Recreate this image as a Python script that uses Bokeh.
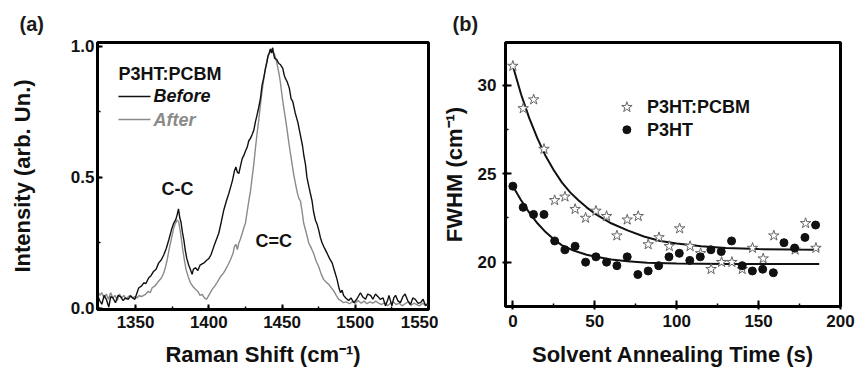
from bokeh.plotting import figure
from bokeh.layouts import row
from bokeh.models import Range1d, SingleIntervalTicker, NumeralTickFormatter
from bokeh.core.properties import value
from bokeh.embed import file_html
from bokeh.resources import INLINE

FONT = "Liberation Sans"

# ---------------- Panel (a): Raman spectra ----------------
before_x = [1324, 1325.5, 1327, 1328.5, 1330, 1331.7, 1333, 1334.5, 1336.3, 1338, 1339.7, 1341.5, 1343, 1345,
            1346.5, 1348, 1349.5, 1351, 1352.2, 1354, 1355.6, 1357, 1359, 1360.5, 1362.4, 1364, 1365.8, 1367.5,
            1369.3, 1371, 1372.7, 1374.5, 1376, 1377.5, 1378.5, 1379.3, 1380.2, 1381, 1382, 1383, 1384, 1385,
            1386.3, 1387.5, 1388.6, 1389.5, 1390.9, 1392.5, 1394, 1395.5, 1397, 1398.9, 1400, 1401.5, 1403.4,
            1405, 1406.8, 1408.5, 1410.2, 1412, 1413.6, 1415, 1416.2, 1417.5, 1418.5, 1419.5, 1420.5, 1421.5,
            1422.8, 1424, 1425, 1426.2, 1427.3, 1428.5, 1429.6, 1430.7, 1431.9, 1433, 1434, 1435.2, 1436.4,
            1437.5, 1438.7, 1439.7, 1440.5, 1441.3, 1442, 1442.8, 1443.6, 1444.3, 1445, 1446.4, 1447.8, 1449,
            1450.5, 1451.5, 1452.3, 1453.5, 1455, 1456.2, 1457.3, 1459, 1460.8, 1462.6, 1464, 1465, 1466, 1467,
            1468.5, 1470.5, 1471.5, 1472.8, 1474, 1475, 1476.2, 1477.4, 1479, 1480.8, 1482.5, 1484.2, 1486,
            1487.6, 1489, 1490, 1491, 1492, 1493.5, 1495.5, 1497, 1499, 1501, 1503.5, 1505, 1507, 1508.5, 1510.5,
            1512, 1513.8, 1515.5, 1517, 1519, 1520.6, 1522, 1523, 1524, 1525, 1526.3, 1527.5, 1529, 1530.8,
            1532.5, 1534, 1535.8, 1537.7, 1539.3, 1541, 1542.8, 1544.6, 1546.3, 1548, 1549.5]
before_y = [0.05, 0.03, 0.016, 0.05, 0.035, 0.005, 0.045, 0.04, 0.022, 0.05, 0.045, 0.03, 0.04, 0.035,
            0.048, 0.04, 0.035, 0.06, 0.079, 0.085, 0.098, 0.095, 0.117, 0.125, 0.142, 0.15, 0.174, 0.185,
            0.205, 0.23, 0.262, 0.30, 0.325, 0.34, 0.36, 0.38, 0.345, 0.33, 0.29, 0.26, 0.22, 0.19,
            0.165, 0.148, 0.13, 0.15, 0.155, 0.145, 0.165, 0.17, 0.175, 0.186, 0.19, 0.205, 0.236,
            0.26, 0.287, 0.33, 0.375, 0.41, 0.438, 0.465, 0.49, 0.525, 0.54, 0.52, 0.515, 0.54,
            0.572, 0.585, 0.60, 0.615, 0.64, 0.65, 0.664, 0.68, 0.714, 0.74, 0.765, 0.80, 0.853,
            0.88, 0.916, 0.94, 0.966, 0.975, 0.99, 0.975, 0.995, 0.97, 0.954, 0.95, 0.935, 0.93,
            0.916, 0.89, 0.878, 0.865, 0.84, 0.80, 0.79, 0.746, 0.71, 0.66, 0.62, 0.58, 0.55, 0.5,
            0.46, 0.41, 0.37, 0.337, 0.32, 0.30, 0.27, 0.25, 0.23, 0.21, 0.19, 0.174, 0.14,
            0.11, 0.075, 0.06, 0.07, 0.05, 0.04, 0.03, 0.04, 0.022, 0.035, 0.06, 0.045, 0.035, 0.055, 0.05,
            0.035, 0.055, 0.045, 0.035, 0.04, 0.01, 0.03, 0.05, 0.03, 0.01, 0.04, 0.05, 0.03, 0.022,
            0.045, 0.055, 0.03, 0.015, 0.04, 0.035, 0.02, 0.022, 0.035, 0.01, 0.02]

after_x = [1324, 1325.5, 1327, 1328.5, 1330, 1331.5, 1333, 1334.5, 1336, 1337.5, 1339, 1340.5, 1342, 1343.5,
           1345, 1346.5, 1348, 1349.5, 1351, 1352.5, 1354, 1355.5, 1356.8, 1358.5, 1360, 1361.3, 1363, 1364.5,
           1365.8, 1367.5, 1369.3, 1370.5, 1371.6, 1372.7, 1373.8, 1375, 1376, 1377.2, 1378.4, 1379.5, 1380.7,
           1381.5, 1382.2, 1383.3, 1384.5, 1386, 1387.5, 1389, 1390.9, 1392.5, 1394, 1395.5, 1397, 1398.5,
           1400, 1401, 1402.3, 1404, 1405.5, 1406.8, 1408.5, 1410, 1411.4, 1413, 1414.8, 1416.5, 1417.5,
           1418.5, 1419.5, 1420.5, 1421.6, 1423, 1424, 1425, 1426.2, 1427.3, 1428.5, 1429.6, 1430.7, 1432,
           1433, 1434, 1435.3, 1436.4, 1437.5, 1438.7, 1439.8, 1441, 1442, 1442.6, 1443.5, 1444.5, 1445.5,
           1446.7, 1447.8, 1448.7, 1449.6, 1450.8, 1451.9, 1453, 1454.2, 1455.5, 1456.9, 1458, 1459.2, 1460.5,
           1461.5, 1462.6, 1463.7, 1464.8, 1466.5, 1468.2, 1470, 1471.6, 1473.3, 1475, 1476.8, 1478.5, 1480.2,
           1481.9, 1483.5, 1485.3, 1487, 1488.7, 1490.3, 1492, 1494, 1496, 1498, 1500, 1502, 1504, 1506, 1508,
           1510, 1512, 1514, 1516, 1518, 1520, 1522, 1524, 1526, 1528, 1530, 1532, 1534, 1536, 1538, 1540,
           1542, 1544, 1546, 1548, 1550]
after_y = [0.07, 0.05, 0.06, 0.04, 0.055, 0.035, 0.06, 0.04, 0.05, 0.03, 0.055, 0.04, 0.05, 0.035,
           0.045, 0.05, 0.04, 0.045, 0.04, 0.05, 0.045, 0.05, 0.054, 0.065, 0.06, 0.079, 0.085, 0.095,
           0.105, 0.115, 0.136, 0.16, 0.186, 0.22, 0.249, 0.28, 0.306, 0.325, 0.337, 0.33, 0.287,
           0.255, 0.224, 0.185, 0.148, 0.12, 0.098, 0.085, 0.073, 0.065, 0.05, 0.054, 0.04, 0.035,
           0.05, 0.06, 0.073, 0.085, 0.098, 0.11, 0.125, 0.135, 0.148, 0.165, 0.186, 0.21, 0.236,
           0.245, 0.225, 0.25, 0.265, 0.29, 0.31, 0.325, 0.37, 0.41, 0.45, 0.50, 0.55, 0.62,
           0.67, 0.714, 0.78, 0.83, 0.875, 0.916, 0.95, 0.97, 0.985, 0.99, 0.98, 0.975, 0.96,
           0.93, 0.90, 0.87, 0.83, 0.78, 0.74, 0.70, 0.65, 0.60, 0.55, 0.51, 0.475, 0.44,
           0.42, 0.41, 0.37, 0.325, 0.29, 0.25, 0.23, 0.21, 0.18, 0.16, 0.13, 0.11, 0.10,
           0.092, 0.08, 0.067, 0.05, 0.035, 0.03, 0.022, 0.025, 0.018, 0.025, 0.02, 0.03, 0.02, 0.028, 0.018,
           0.025, 0.02, 0.028, 0.02, 0.015, 0.022, 0.01, 0.02, 0.025, 0.015, 0.02, 0.01, 0.018, 0.025, 0.012, 0.02,
           0.015, 0.01, 0.02, 0.012, 0.015]

# ---------------- Panel (b): FWHM vs annealing time ----------------
blend_t = [0, 6.3, 12.7, 19, 25.5, 31.8, 38, 44.4, 50.7, 57.2, 63.5, 69.8, 76.5, 82.6, 89.2, 95.5, 101.8,
           108.2, 114.6, 121, 127.4, 133.7, 140, 146.3, 152.8, 159.3, 172.3, 178.7, 185]
blend_fwhm = [31.1, 28.7, 29.2, 26.4, 23.5, 23.7, 23.0, 22.5, 22.9, 22.6, 21.5, 22.4, 22.6, 21.0, 21.4, 20.9,
              21.9, 20.9, 20.5, 19.6, 20.0, 20.0, 19.6, 20.8, 20.2, 21.5, 20.7, 22.2, 20.8]

p3ht_t = [0, 6.3, 12.6, 19, 25.5, 31.8, 38, 44.4, 50.7, 57.2, 63.5, 69.8, 76.3, 82.6, 89, 95.3, 101.6, 108,
          114.4, 120.9, 127.2, 133.5, 140, 146.2, 152.5, 159, 165.5, 172, 178.3, 184.8]
p3ht_fwhm = [24.3, 23.1, 22.7, 22.7, 21.2, 20.7, 20.9, 20.0, 20.3, 20.0, 19.8, 20.3, 19.3, 19.5, 19.8, 20.3,
             20.5, 20.1, 20.3, 20.7, 20.6, 21.2, 19.8, 19.5, 19.6, 19.4, 21.1, 20.8, 21.4, 22.1]

blend_fit_t = [0, 5, 10, 15, 20, 25, 30, 35, 40, 45, 50, 60, 70, 80, 90, 100, 115, 130, 150, 170, 187]
blend_fit_y = [31.1, 29.5, 28.15, 27.0, 26.0, 25.2, 24.5, 23.95, 23.5, 23.1, 22.75, 22.2, 21.8, 21.45,
               21.2, 21.05, 20.9, 20.8, 20.74, 20.71, 20.7]
p3ht_fit_t = [0, 5, 10, 15, 20, 25, 30, 37, 45, 50, 60, 70, 82, 100, 130, 187]
p3ht_fit_y = [24.3, 23.5, 22.8, 22.2, 21.7, 21.3, 20.95, 20.66, 20.42, 20.32, 20.15, 20.05, 19.97, 19.92,
              19.9, 19.9]


def style(p, tick_in, tick_out, panel_text, title_offset):
    p.xgrid.visible = False
    p.ygrid.visible = False
    p.outline_line_color = "black"
    p.outline_line_width = 3
    p.background_fill_color = "white"
    p.border_fill_color = "white"
    p.title.text = panel_text
    p.title.align = "left"
    p.title.offset = title_offset
    p.title.text_font = FONT
    p.title.text_font_style = "bold"
    p.title.text_font_size = "20px"
    p.title.text_color = "#1a1a1a"
    p.title.standoff = 16
    for ax in (p.xaxis[0], p.yaxis[0]):
        ax.axis_line_width = 3
        ax.axis_line_color = "black"
        ax.major_tick_in = tick_in
        ax.major_tick_out = tick_out
        ax.minor_tick_in = 3
        ax.minor_tick_out = 0
        ax.major_tick_line_width = 2
        ax.minor_tick_line_width = 1.5
        ax.major_label_text_font = FONT
        ax.major_label_text_font_style = "bold"
        ax.major_label_text_font_size = "17px"
        ax.major_label_text_color = "#111111"
        ax.axis_label_text_font = FONT
        ax.axis_label_text_font_style = "bold"
        ax.axis_label_text_font_size = "22px"
        ax.axis_label_text_color = "#111111"


# ----- figure (a)
pa = figure(frame_width=331, frame_height=267, min_border_left=97, min_border_right=10,
            min_border_top=40, min_border_bottom=67,
            x_range=Range1d(1324, 1550), y_range=Range1d(-0.004, 1.015),
            output_backend="svg", toolbar_location=None)
style(pa, 5, 0, "(a)", -78)
pa.xaxis.ticker = SingleIntervalTicker(interval=50, num_minor_ticks=2)
pa.yaxis.ticker = SingleIntervalTicker(interval=0.5, num_minor_ticks=2)
pa.yaxis.formatter = NumeralTickFormatter(format="0.0")
pa.xaxis.major_label_standoff = 6
pa.yaxis.major_label_standoff = 3
pa.xaxis.axis_label = "Raman Shift (cm\u207b\u00b9)"
pa.yaxis.axis_label = "Intensity (arb. Un.)"
pa.xaxis.axis_label_standoff = 11
pa.yaxis.axis_label_standoff = 33

pa.line(after_x, after_y, line_color="#8a8a8a", line_width=1.4)
pa.line(before_x, before_y, line_color="#111111", line_width=1.4)

# legend of (a)
pa.text(x=[1338.3], y=[0.895], text=["P3HT:PCBM"], text_font=value(FONT), text_font_style="bold",
        text_font_size="18px", text_baseline="middle", text_color="#111111")
pa.line([1338.3, 1360.2], [0.809, 0.809], line_color="#111111", line_width=1.4)
pa.text(x=[1362.2], y=[0.809], text=["Before"], text_font=value(FONT), text_font_style="bold italic",
        text_font_size="18px", text_baseline="middle", text_color="#111111")
pa.line([1338.3, 1360.2], [0.721, 0.721], line_color="#8a8a8a", line_width=1.4)
pa.text(x=[1362.2], y=[0.721], text=["After"], text_font=value(FONT), text_font_style="bold italic",
        text_font_size="18px", text_baseline="middle", text_color="#8a8a8a")
pa.text(x=[1378.6, 1444.3], y=[0.454, 0.258], text=["C-C", "C=C"], text_font=value(FONT),
        text_font_style="bold", text_font_size="18px", text_align="center", text_baseline="middle",
        text_color="#111111")

# ----- figure (b)
pb = figure(frame_width=335, frame_height=264, min_border_left=67, min_border_right=18,
            min_border_top=42, min_border_bottom=68,
            x_range=Range1d(-4.5, 200), y_range=Range1d(17.49, 32.43),
            output_backend="svg", toolbar_location=None)
style(pb, 6, 3, "(b)", -53)
pb.xaxis.ticker = SingleIntervalTicker(interval=50, num_minor_ticks=2)
pb.yaxis.ticker = SingleIntervalTicker(interval=5, num_minor_ticks=2)
pb.xaxis.major_label_standoff = 5
pb.yaxis.major_label_standoff = 6
pb.xaxis.axis_label = "Solvent Annealing Time (s)"
pb.yaxis.axis_label = "FWHM (cm\u207b\u00b9)"
pb.xaxis.axis_label_standoff = 12
pb.yaxis.axis_label_standoff = 8

pb.line(blend_fit_t, blend_fit_y, line_color="#111111", line_width=2)
pb.line(p3ht_fit_t, p3ht_fit_y, line_color="#111111", line_width=2)
pb.scatter(blend_t, blend_fwhm, marker="star", size=11, fill_color="white", line_color="#666666",
           line_width=1)
pb.scatter(p3ht_t, p3ht_fwhm, marker="circle", size=8, fill_color="#111111", line_color="#111111")

# legend of (b)
pb.scatter([69.6], [28.77], marker="star", size=11, fill_color="white", line_color="#666666", line_width=1)
pb.scatter([69.6], [27.49], marker="circle", size=8, fill_color="#111111", line_color="#111111")
pb.text(x=[81.9, 81.9], y=[28.77, 27.49], text=["P3HT:PCBM", "P3HT"], text_font=value(FONT),
        text_font_style="bold", text_font_size="18px", text_baseline="middle", text_color="#111111")

layout = row(pa, pb, spacing=0)
open("out.html", "w").write(file_html(layout, INLINE))
